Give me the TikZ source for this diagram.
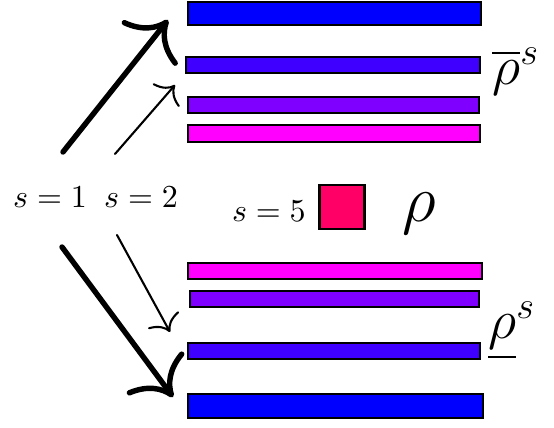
\documentclass[tikz,border=0pt]{standalone}
\usepackage{amsmath,amssymb}
\usepackage{tikz}
\usetikzlibrary{arrows.meta}

\definecolor{levA}{RGB}{0,0,255}
\definecolor{levB}{RGB}{64,0,255}
\definecolor{levC}{RGB}{128,0,255}
\definecolor{levD}{RGB}{255,0,255}
\definecolor{rhocol}{RGB}{255,0,102}

\begin{document}
\begin{tikzpicture}[x=0.3125pt, y=-0.3125pt,
    bar/.style={draw, line width=0.7pt},
    bigarrow/.style={line width=1.7pt, line cap=round,
      -{Computer Modern Rightarrow[length=10pt, width=22pt]}},
    smallarrow/.style={line width=0.65pt, line cap=round,
      -{Computer Modern Rightarrow[length=4.5pt, width=11pt]}}]
  \useasboundingbox (0,0) rectangle (554,428);

  % upper levels
  \draw[bar, fill=levA] (188,2) rectangle (481,25);
  \draw[bar, fill=levB] (186,57) rectangle (480,73);
  \draw[bar, fill=levC] (188,97) rectangle (479,113);
  \draw[bar, fill=levD] (188,125) rectangle (480,142);
  % lower levels
  \draw[bar, fill=levD] (188,263) rectangle (482,279);
  \draw[bar, fill=levC] (190,291) rectangle (479,307);
  \draw[bar, fill=levB] (188,343) rectangle (480,359);
  \draw[bar, fill=levA] (188,394) rectangle (483,418);

  % the state itself
  \node (sq) [draw, line width=0.7pt, fill=rhocol, minimum width=14pt,
              minimum height=13.6pt, inner sep=0pt] at (342,207) {};
  \node (s5) [anchor=east] at (317,211) {$s=5$};
  \node (rho) [font=\huge] at (419,214) {$\rho$};
  \node (rhoup) [font=\LARGE] at (516,72) {$\overline{\rho}^s$};
  \node (rhodn) [font=\LARGE] at (512,331) {$\underline{\rho}^s$};

  \node (s1) at (50,197) {$s=1$};
  \node (s2) at (141,197) {$s=2$};

  \coordinate (upA) at (63,152);  \coordinate (upAe) at (168,20);
  \coordinate (upB) at (115,154); \coordinate (upBe) at (175,85);
  \coordinate (dnA) at (62,247);  \coordinate (dnAe) at (173,397);
  \coordinate (dnB) at (117,235); \coordinate (dnBe) at (170,332);
  \draw[bigarrow] (upA) -- (upAe);
  \draw[smallarrow] (upB) -- (upBe);
  \draw[bigarrow] (dnA) -- (dnAe);
  \draw[smallarrow] (dnB) -- (dnBe);
\end{tikzpicture}
\end{document}
